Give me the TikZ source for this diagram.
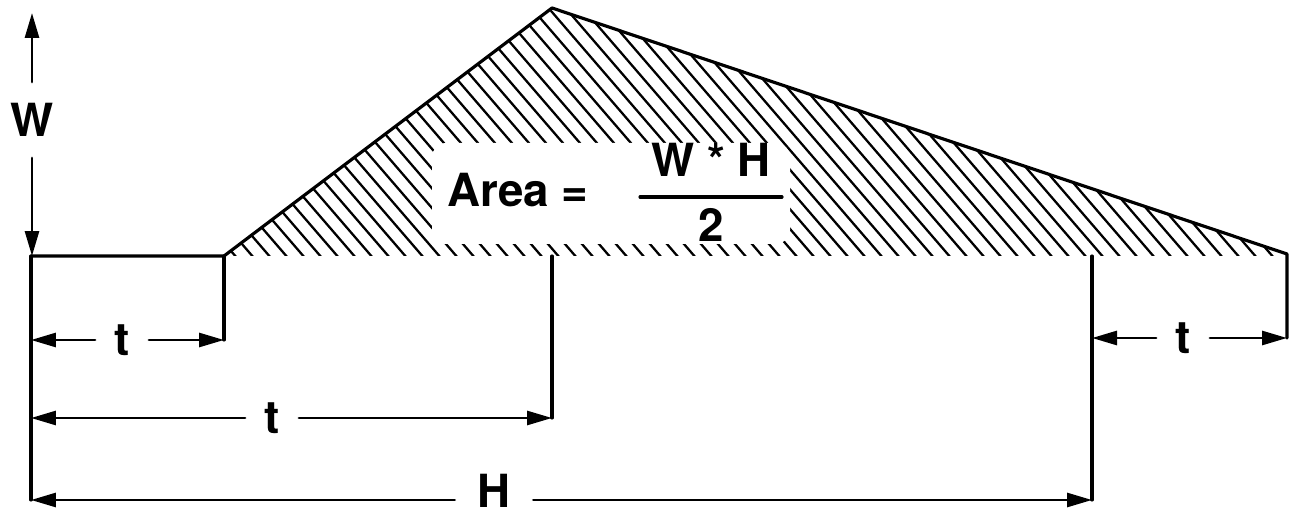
\documentclass[tikz,border=0pt]{standalone}
\usepackage{fontspec}
\setmainfont{TeX Gyre Heros}
\usetikzlibrary{arrows.meta}

\begin{document}
\begin{tikzpicture}[x=0.02cm,y=-0.02cm,line cap=round,line join=round,
  >={Triangle[length=0.5cm,width=0.28cm]},
  every node/.style={inner sep=1pt,font=\fontsize{26}{30}\selectfont\bfseries},
  dim/.style={->,line width=1.6pt},
  lab/.style={inner xsep=0.38cm},
  edge/.style={line width=1.8pt}]
  \useasboundingbox (0,0) rectangle (1293,516);
  \def\base{256}
  \coordinate (L) at (31,\base);
  \coordinate (K) at (224,\base);
  \coordinate (P) at (552,8);
  \coordinate (R) at (1287,254);
  \coordinate (M) at (1092,\base);
  % hatching under the slopes
  \begin{scope}
    \clip (K) -- (P) -- (R) -- (R |- L) -- cycle;
    \foreach \c in {-300,-283,...,1300}
      \draw[line width=1.3pt] (\c,-10) -- ++(250,290);
  \end{scope}
  \fill[white,rounded corners=8pt] (432,143) rectangle (790,244);
  % outline
  \draw[edge] (L) -- (K) -- (P) -- (R) -- (1287,338);
  \draw[edge] (L) -- (31,500);
  \draw[edge] (K) -- (224,340);
  \draw[edge] (P |- L) -- (552,418);
  \draw[edge] (M) -- (1092,500);
  % labels
  \node[inner ysep=0.42cm] (w) at (32,120) {W};
  \node[lab] (t1) at (122,340) {t};
  \node[lab] (t2) at (272,418) {t};
  \node[lab] (t3) at (1183,338) {t};
  \node[lab,inner xsep=0.45cm] (h) at (494,491) {H};
  \node (area) at (518,190) {Area =};
  \node (num) at (711,160) {W * H};
  \node (den) at (711,225) {2};
  \coordinate (fl) at (640,197);
  \coordinate (fr) at (782,197);
  \draw[edge] (fl) -- (fr);
  % dimension arrows
  \draw[dim] (w) -- (w |- 0,13);
  \draw[dim] (w) -- (w |- L);
  \draw[dim] (t1) -- (t1 -| L);
  \draw[dim] (t1) -- (t1 -| K);
  \draw[dim] (t2) -- (t2 -| L);
  \draw[dim] (t2) -- (t2 -| P);
  \draw[dim] (t3) -- (t3 -| M);
  \draw[dim] (t3) -- (t3 -| R);
  \coordinate (hw) at ([yshift=-0.18cm]h.west);
  \coordinate (he) at ([yshift=-0.18cm]h.east);
  \draw[dim] (hw) -- (hw -| L);
  \draw[dim] (he) -- (he -| M);
\end{tikzpicture}
\end{document}
